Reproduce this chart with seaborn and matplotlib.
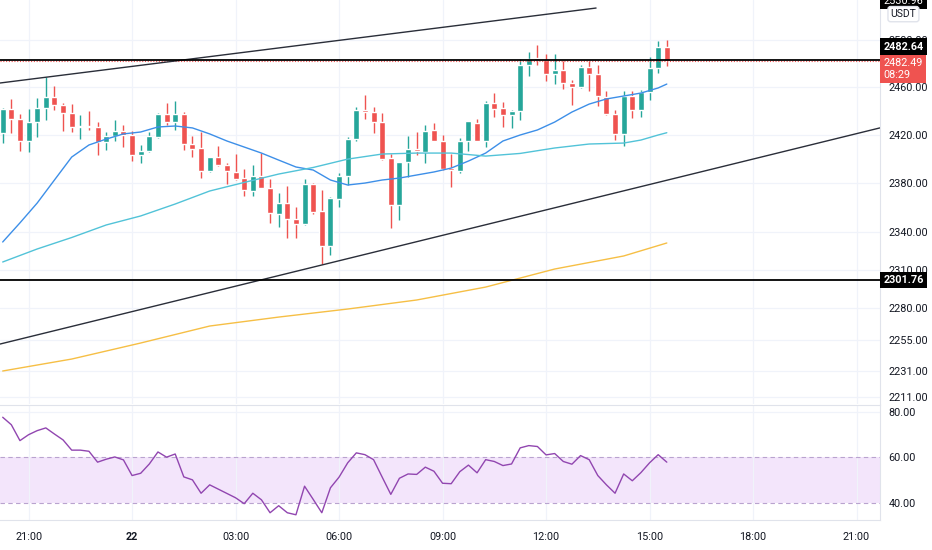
import numpy as np
import pandas as pd
import matplotlib
matplotlib.use("Agg")
import matplotlib.pyplot as plt
import matplotlib.transforms as mtrans
from matplotlib.ticker import NullLocator
import seaborn as sns

# 15 minute candles, first one 20:15, last one 15:30
opens = [2421.6, 2441.2, 2433.0, 2414.9, 2430.8, 2442.5, 2451.8, 2444.5, 2438.3, 2426.4,
         2427.0, 2426.1, 2413.8, 2419.1, 2422.8, 2419.7, 2403.1, 2406.6, 2418.3, 2436.9,
         2430.3, 2436.9, 2412.0, 2408.6, 2390.1, 2401.1, 2394.8, 2389.3, 2383.9, 2373.7,
         2385.8, 2376.2, 2354.8, 2363.5, 2351.0, 2346.7, 2379.2, 2357.2, 2329.2, 2367.0,
         2385.8, 2416.3, 2440.6, 2438.7, 2430.8, 2400.3, 2362.4, 2397.3, 2408.0, 2405.5,
         2423.6, 2414.9, 2392.1, 2390.1, 2414.7, 2429.4, 2414.9, 2446.7, 2441.9, 2436.6,
         2439.5, 2478.4, 2484.4, 2482.7, 2471.3, 2474.7, 2463.4, 2459.7, 2476.6, 2471.1,
         2451.3, 2437.3, 2420.5, 2452.7, 2440.9, 2455.8, 2476.1, 2493.8]
highs = [2442.3, 2450.1, 2437.2, 2441.7, 2450.7, 2468.7, 2460.8, 2446.2, 2445.6, 2436.4,
         2439.5, 2430.8, 2422.2, 2432.2, 2428.0, 2423.3, 2411.6, 2422.5, 2438.5, 2446.2,
         2448.2, 2439.1, 2418.8, 2421.9, 2401.7, 2410.5, 2396.7, 2403.9, 2391.5, 2394.6,
         2405.0, 2383.1, 2371.6, 2377.8, 2360.7, 2383.1, 2380.0, 2374.3, 2368.8, 2388.0,
         2417.7, 2443.1, 2453.2, 2443.4, 2438.3, 2403.9, 2397.7, 2419.1, 2422.2, 2428.0,
         2429.4, 2419.7, 2403.9, 2417.4, 2430.8, 2433.0, 2448.4, 2455.2, 2447.6, 2440.2,
         2484.1, 2489.8, 2496.0, 2488.1, 2488.1, 2481.9, 2465.9, 2479.0, 2481.9, 2479.0,
         2456.4, 2440.9, 2456.4, 2456.9, 2457.8, 2485.3, 2498.9, 2500.3]
lows = [2413.3, 2421.6, 2406.6, 2405.8, 2418.3, 2432.2, 2440.6, 2423.3, 2422.5, 2416.1,
        2423.9, 2403.1, 2407.2, 2414.9, 2410.1, 2398.1, 2396.7, 2405.8, 2417.0, 2428.0,
        2423.9, 2407.2, 2401.7, 2383.9, 2389.1, 2394.0, 2379.0, 2382.5, 2369.4, 2369.4,
        2375.7, 2347.3, 2344.5, 2335.2, 2335.2, 2345.9, 2354.8, 2314.6, 2321.8, 2360.2,
        2378.4, 2414.7, 2432.8, 2421.6, 2398.9, 2343.2, 2350.0, 2385.2, 2403.1, 2396.7,
        2414.7, 2391.1, 2377.0, 2388.0, 2406.6, 2414.7, 2410.1, 2435.0, 2426.6, 2425.3,
        2432.5, 2469.1, 2479.0, 2464.8, 2462.8, 2458.6, 2445.1, 2459.2, 2456.4, 2444.2,
        2436.8, 2415.8, 2410.4, 2433.9, 2434.5, 2449.3, 2471.9, 2477.6]
closes = [2441.2, 2433.0, 2414.9, 2430.8, 2442.5, 2451.8, 2444.5, 2438.3, 2426.6, 2426.9,
          2426.1, 2413.8, 2419.1, 2423.3, 2419.7, 2403.1, 2406.6, 2418.8, 2436.9, 2430.3,
          2436.9, 2412.2, 2408.0, 2390.1, 2401.1, 2394.8, 2389.9, 2383.3, 2374.3, 2385.8,
          2376.2, 2355.4, 2363.5, 2350.5, 2346.7, 2379.2, 2356.6, 2329.2, 2367.4, 2385.8,
          2416.1, 2440.9, 2438.7, 2430.8, 2399.7, 2362.4, 2397.3, 2407.8, 2406.1, 2422.8,
          2414.9, 2391.5, 2390.7, 2414.7, 2431.8, 2414.9, 2446.7, 2441.4, 2436.4, 2439.5,
          2479.0, 2484.1, 2482.7, 2471.3, 2474.7, 2463.4, 2460.0, 2476.6, 2471.1, 2452.2,
          2437.3, 2420.5, 2452.7, 2440.9, 2455.8, 2476.1, 2493.8, 2482.49]

rsi = [77.7, 74.4, 67.4, 70.0, 71.8, 73.0, 70.3, 67.7, 63.2, 63.2,
       62.7, 57.9, 59.2, 60.2, 58.9, 52.0, 53.0, 57.1, 62.4, 60.1,
       61.5, 51.4, 50.1, 44.2, 47.9, 46.0, 44.1, 42.2, 39.6, 44.2,
       41.3, 35.6, 38.7, 35.6, 34.7, 47.3, 41.5, 35.6, 46.6, 51.3,
       57.6, 62.0, 61.2, 59.0, 51.3, 43.7, 50.8, 52.7, 52.5, 55.7,
       53.9, 48.6, 48.4, 53.7, 56.6, 53.2, 59.0, 58.2, 56.4, 57.1,
       64.2, 65.2, 64.8, 61.1, 61.7, 58.2, 57.0, 60.8, 59.0, 52.0,
       47.9, 44.2, 52.7, 49.7, 53.3, 57.6, 61.2, 57.9]

# moving averages read at some candles
ma20_idx = list(range(0, 77, 2)) + [77]
ma20 = [2332.2, 2347.6, 2363.7, 2382.5, 2401.4, 2411.4, 2416.3, 2420.6, 2422.2, 2426.4,
        2427.2, 2425.6, 2420.6, 2414.7, 2409.7, 2404.7, 2398.9, 2393.2, 2390.7, 2382.5,
        2378.4, 2380.0, 2382.5, 2384.1, 2386.6, 2389.1, 2392.3, 2398.1, 2404.7, 2414.7,
        2419.7, 2423.9, 2430.5, 2438.9, 2445.6, 2449.9, 2452.4, 2454.9, 2459.2, 2462.5]
ma50_idx = [0, 4, 8, 12, 16, 20, 24, 28, 32, 36, 40, 44, 48, 52, 56, 60, 64, 68, 72, 74, 76, 77]
ma50 = [2316.2, 2326.6, 2335.8, 2345.9, 2353.2, 2362.9, 2373.5, 2380.5, 2387.4, 2392.8, 2399.7,
        2403.9, 2404.7, 2404.7, 2402.2, 2404.4, 2408.9, 2412.2, 2413.0, 2415.5, 2419.7, 2421.6]
ma200_idx = [0, 8, 16, 24, 32, 40, 48, 56, 64, 72, 77]
ma200 = [2230.9, 2240.1, 2252.5, 2265.7, 2272.7, 2279.0, 2286.1, 2296.3, 2310.6, 2321.0, 2331.4]

# drawings
upper_x = [-0.31, 68.8]
upper_y = [2463.4, 2527.8]
lower_x = [-0.31, 101.7]
lower_y = [2251.7, 2425.6]
levels = [2482.64, 2301.76]

price_ticks = [2500, 2460, 2420, 2380, 2340, 2310, 2280, 2255, 2231, 2211]
time_ticks = [3, 15, 27, 39, 51, 63, 75, 87, 99]
time_labels = ["21:00", "22", "03:00", "06:00", "09:00", "12:00", "15:00", "18:00", "21:00"]

UP = "#26a69a"
DOWN = "#ef5350"
TXT = "#131722"
GRID = "#f0f3fa"
EDGE = "#e0e3eb"

sns.set_style("white")
plt.rcParams['font.family'] = ['Roboto', 'DejaVu Sans']

df = pd.DataFrame({"open": opens, "high": highs, "low": lows, "close": closes})
df["idx"] = np.arange(len(df))
df["color"] = np.where(df["close"] >= df["open"], UP, DOWN)

fig = plt.figure(figsize=(9.32, 5.5), dpi=100)
ax = fig.add_axes([0, 146 / 550, 880 / 932, 404 / 550])
ax2 = fig.add_axes([0, 30 / 550, 880 / 932, 115 / 550])

xlim = (-0.313, 101.72)

# ---- price pane
ax.set_yscale("log")
ax.set_ylim(2205.7, 2534.8)
ax.set_xlim(*xlim)
for t in price_ticks:
    ax.axhline(t, color=GRID, lw=0.9, zorder=0)
for t in time_ticks:
    ax.axvline(t, color=GRID, lw=0.9, zorder=0)

ax.vlines(df["idx"], df["low"], df["high"], colors=df["color"], lw=1, zorder=2)
body = (df["close"] - df["open"]).abs().clip(lower=0.9)
ax.bar(df["idx"], body, bottom=df[["open", "close"]].min(axis=1), width=0.7,
       color=df["color"], zorder=3)

sns.lineplot(x=ma20_idx, y=ma20, ax=ax, color="#3d8fe8", lw=1, zorder=4)
sns.lineplot(x=ma50_idx, y=ma50, ax=ax, color="#52c3d8", lw=1, zorder=4)
sns.lineplot(x=ma200_idx, y=ma200, ax=ax, color="#f6bf45", lw=1, zorder=4)

ax.plot(upper_x, upper_y, color="#2a2e39", lw=1, zorder=5)
ax.plot(lower_x, lower_y, color="#2a2e39", lw=1, zorder=5)
for lv in levels:
    ax.axhline(lv, color="black", lw=1.3, zorder=5)
ax.axhline(closes[-1], color=DOWN, lw=0.8, ls=(0, (1, 1.5)), zorder=4)

ax.yaxis.tick_right()
ax.yaxis.set_minor_locator(NullLocator())
ax.set_yticks(price_ticks)
ax.set_yticklabels([f"{t:.2f}" for t in price_ticks])
ax.tick_params(axis="y", length=0, pad=6, labelsize=7.8, labelcolor=TXT)
ax.set_xticks(time_ticks)
ax.tick_params(axis="x", length=0, labelbottom=False)
for s in ["top", "left", "bottom"]:
    ax.spines[s].set_visible(False)
ax.spines["right"].set_color(EDGE)

# price scale labels (shifted like the price scale does to avoid overlap)
tr = mtrans.blended_transform_factory(ax.transAxes, ax.transData)
box_kw = dict(boxstyle="square,pad=0.3", ec="none")
ax.annotate(f"{levels[0]:.2f}", xy=(1.004, levels[0]), xycoords=tr,
            xytext=(0, 10), textcoords="offset points", ha="left", va="center",
            color="white", fontsize=7.8, fontweight="bold", annotation_clip=False, zorder=10,
            bbox=dict(fc="black", **box_kw))
ax.annotate(f"{closes[-1]:.2f}\n08:29", xy=(1.004, closes[-1]), xycoords=tr,
            xytext=(0, -6), textcoords="offset points", ha="left", va="center",
            color="white", fontsize=7.8, linespacing=1.2, annotation_clip=False, zorder=10,
            bbox=dict(fc=DOWN, **box_kw))
ax.text(1.004, levels[1], f"{levels[1]:.2f}", transform=tr, ha="left", va="center",
        color="white", fontsize=7.8, fontweight="bold", clip_on=False, zorder=10,
        bbox=dict(fc="black", **box_kw))
ax.text(1.004, 2533.8, "2530.96", transform=tr, ha="left", va="center", color="white",
        fontsize=7.8, clip_on=False, zorder=10, bbox=dict(fc="black", **box_kw))
ax.text(1.012, 2522.5, "USDT", transform=tr, ha="left", va="center", color=TXT,
        fontsize=7.5, clip_on=False, zorder=10,
        bbox=dict(boxstyle="round,pad=0.25", fc="white", ec=EDGE))

# ---- RSI pane
ax2.set_xlim(*xlim)
ax2.set_ylim(32.4, 83.1)
ax2.axhspan(40, 60, color="#f3e5fb", lw=0, zorder=0)
for lv in [40, 60]:
    ax2.axhline(lv, color="#b9a3cf", lw=0.8, ls=(0, (4, 3)), zorder=1)
ax2.axhline(80, color=GRID, lw=0.9, zorder=0)
for t in time_ticks:
    ax2.axvline(t, color=GRID, lw=0.9, zorder=0.5)
sns.lineplot(x=df["idx"], y=rsi, ax=ax2, color="#9146b0", lw=1, zorder=3)

ax2.yaxis.tick_right()
ax2.set_yticks([40, 60, 80])
ax2.set_yticklabels(["40.00", "60.00", "80.00"])
ax2.tick_params(axis="y", length=0, pad=6, labelsize=7.8, labelcolor=TXT)
ax2.set_xticks(time_ticks)
ax2.set_xticklabels(time_labels)
ax2.tick_params(axis="x", length=0, pad=9, labelsize=7.8, labelcolor=TXT)
ax2.get_xticklabels()[1].set_fontweight("bold")
ax2.set_xlabel("")
ax2.set_ylabel("")
ax.set_xlabel("")
ax.set_ylabel("")
ax2.spines["left"].set_visible(False)
for s in ["top", "right", "bottom"]:
    ax2.spines[s].set_color(EDGE)

fig.savefig("out.png", dpi=100)
plt.close(fig)
